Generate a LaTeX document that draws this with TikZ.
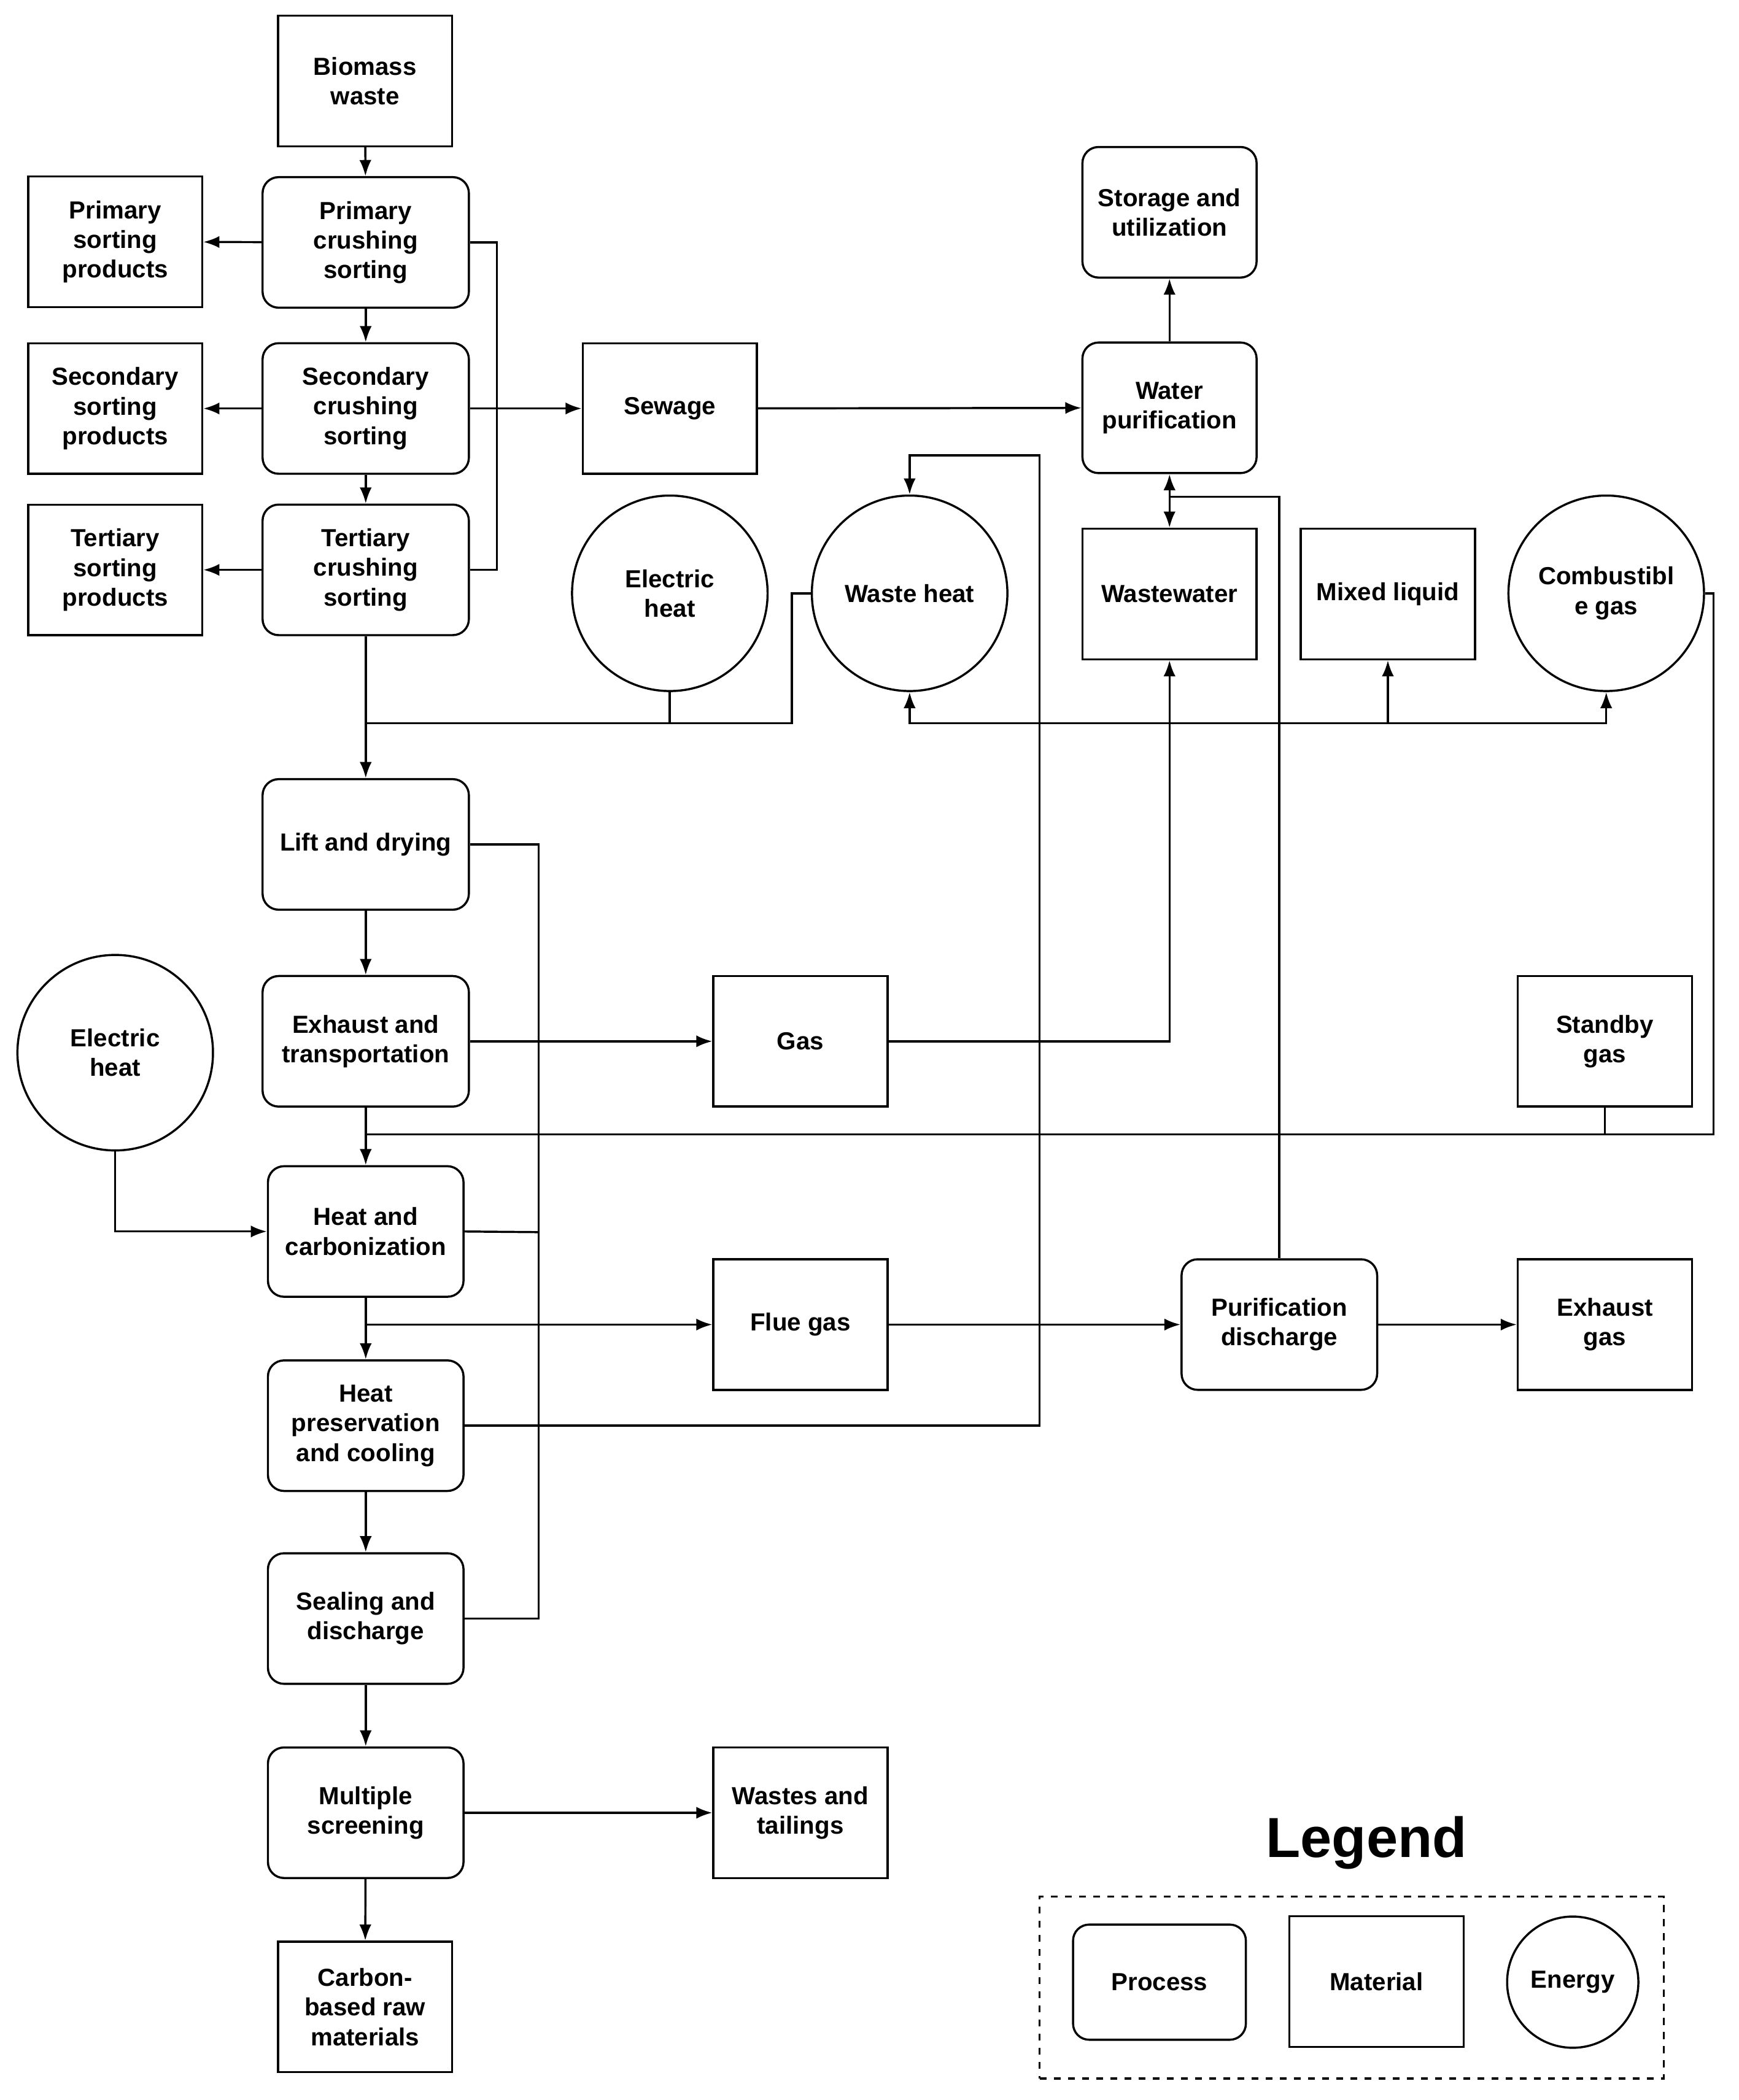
\documentclass[tikz,border=0pt]{standalone}
\usepackage{fontspec}
\setmainfont{Liberation Sans}
\usetikzlibrary{arrows.meta}
\begin{document}
\begin{tikzpicture}[x=0.02cm,y=-0.02cm,
  every node/.style={font=\fontsize{10.5}{12.6}\selectfont\bfseries, align=center, draw, line width=0.9pt, inner sep=1pt},
  proc/.style={rounded corners=0.24cm, minimum width=#1*0.02cm, minimum height=1.95cm},
  proc/.default=154,
  mat/.style={minimum width=2.6cm, minimum height=1.95cm},
  en/.style={circle, minimum size=2.92cm},
  line/.style={line width=0.9pt},
  arr/.style={line width=0.9pt, -{Latex[length=0.24cm,width=0.18cm]}},
  darr/.style={line width=0.9pt, {Latex[length=0.24cm,width=0.18cm]}-{Latex[length=0.24cm,width=0.18cm]}}]
\fill[white] (0,0) rectangle (1298,1568);
\node[mat] (bio) at (272.5,60.5) {Biomass\\waste};
\node[proc] (pcs) at (273,181) {Primary\\crushing\\sorting};
\node[mat] (psp) at (86,180.5) {Primary\\sorting\\products};
\node[proc] (scs) at (273,305) {Secondary\\crushing\\sorting};
\node[mat] (ssp) at (86,305) {Secondary\\sorting\\products};
\node[proc] (tcs) at (273,425.5) {Tertiary\\crushing\\sorting};
\node[mat] (tsp) at (86,425.5) {Tertiary\\sorting\\products};
\node[mat] (sew) at (500,305) {Sewage};
\node[proc=130] (sto) at (873,158.5) {Storage and\\utilization};
\node[proc=130] (wp) at (873,304.5) {Water\\purification};
\node[en] (eh1) at (500,443) {Electric\\heat};
\node[en] (wh) at (679,443) {Waste heat};
\node[mat] (ww) at (873,443.5) {Wastewater};
\node[mat] (ml) at (1036,443.5) {Mixed liquid};
\node[en] (cg) at (1199,443) {Combustibl\\e gas};
\node[proc] (lift) at (273,630.5) {Lift and drying};
\node[proc] (ext) at (273,777.5) {Exhaust and\\transportation};
\node[mat] (gas) at (597.5,777.5) {Gas};
\node[mat] (sb) at (1198,777.5) {Standby\\gas};
\node[en] (eh2) at (86,786) {Electric\\heat};
\node[proc=146] (hc) at (273,919.5) {Heat and\\carbonization};
\node[mat] (fg) at (597.5,989) {Flue gas};
\node[proc=146] (pd) at (955,989) {Purification\\discharge};
\node[mat] (eg) at (1198,989) {Exhaust\\gas};
\node[proc=146] (hp) at (273,1064.5) {Heat\\preservation\\and cooling};
\node[proc=146] (sd) at (273,1208.5) {Sealing and\\discharge};
\node[proc=146] (ms) at (273,1353.5) {Multiple\\screening};
\node[mat] (wt) at (597.5,1353.5) {Wastes and\\tailings};
\node[mat] (cb) at (272.5,1498.5) {Carbon-\\based raw\\materials};
% legend
\node[draw=none, font=\fontsize{24}{28}\selectfont\bfseries] (lg) at (1020,1376) {Legend};
\node[draw, dashed, minimum width=9.32cm, minimum height=2.72cm] (lbox) at (1009,1484) {};
\node[proc=129, minimum height=1.72cm] (lp) at (865.5,1480) {Process};
\node[mat] (lm) at (1027.5,1479.5) {Material};
\node[en, minimum size=1.96cm] (le) at (1174,1480) {Energy};
% connectors
\draw[arr] (bio) -- (pcs);
\draw[arr] (pcs) -- (scs);
\draw[arr] (scs) -- (tcs);
\draw[arr] (pcs) -- (psp);
\draw[arr] (scs) -- (ssp);
\draw[arr] (tcs) -- (tsp);
\coordinate (j1) at (371,305);
\draw[line] (pcs.east) -| (j1) |- (tcs.east);
\draw[arr] (scs.east) -- (sew.west);
\draw[arr] (sew) -- (wp);
\draw[arr] (wp) -- (sto);
\coordinate (j2) at (873,371);
\draw[line] (pd.north) |- (j2);
\draw[darr] (wp.south) -- (ww.north);
\coordinate (j3) at (273,540);
\draw[arr] (tcs.south) -- (lift.north);
\draw[line] (eh1.south) -- (500,540);
\draw[line] (j3) -- (591,540) -- (591,443) -- (wh.west);
\draw[arr] (gas.east) -| (ww.south);
\draw[arr] (873,540) -| (wh.south);
\draw[arr] (873,540) -| (cg.south);
\draw[arr] (1036,540) -- (ml.south);
\draw[arr] (hp.east) -- (776,1064.5) -- (776,340) -| (wh.north);
\draw[arr] (lift) -- (ext);
\draw[arr] (ext) -- (gas);
\draw[arr] (ext.south) -- (hc.north);
\draw[line] (cg.east) -- (1279,443) -- (1279,847) -- (273,847);
\draw[line] (sb.south) -- (1198,847);
\draw[line] (lift.east) -- (402,630.5) -- (402,1208.5) -- (sd.east);
\draw[line] (hc.east) -- (402,920);
\draw[arr] (eh2.south) |- (hc.west);
\draw[arr] (hc) -- (hp);
\draw[arr] (273,989) -- (fg.west);
\draw[arr] (fg) -- (pd);
\draw[arr] (pd) -- (eg);
\draw[arr] (hp) -- (sd);
\draw[arr] (sd) -- (ms);
\draw[arr] (ms) -- (cb);
\draw[arr] (ms) -- (wt);
\end{tikzpicture}
\end{document}
